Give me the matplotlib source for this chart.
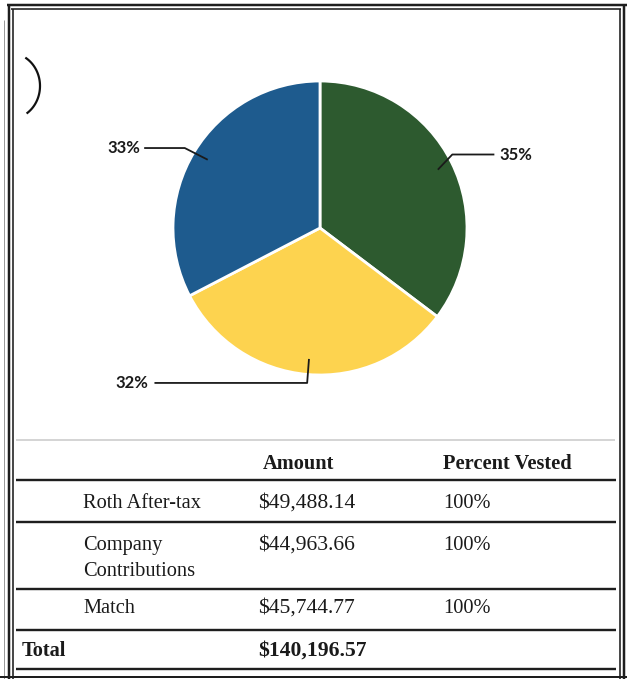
import numpy as np
import matplotlib
matplotlib.use("Agg")
import matplotlib.pyplot as plt

# ---- data ----
categories = ["Roth After-tax", "Company\nContributions", "Match"]
amounts = [49488.14, 44963.66, 45744.77]
amount_labels = ["$49,488.14", "$44,963.66", "$45,744.77"]
vested_labels = ["100%", "100%", "100%"]
total_label = "$140,196.57"
header_labels = ["Amount", "Percent Vested"]
slice_colors = ["#2d5a2f", "#fdd34f", "#1e5b8e"]

W, H = 627, 679
fig = plt.figure(figsize=(W / 100, H / 100), dpi=100)
fig.patch.set_facecolor("white")

# background axes in pixel coordinates
bg = fig.add_axes([0, 0, 1, 1])
bg.set_xlim(0, W)
bg.set_ylim(H, 0)
bg.axis("off")

px = 0.72  # points per pixel

def hline(y, x0, x1, lw, color="#1e1e1e"):
    bg.plot([x0, x1], [y, y], color=color, lw=lw * px, solid_capstyle="butt")

def vline(x, y0, y1, lw, color="#1e1e1e"):
    bg.plot([x, x], [y0, y1], color=color, lw=lw * px, solid_capstyle="butt")

# outer frame (double lines)
hline(4.5, 7, 627, 2.5)
hline(9, 11, 621, 1.6)
vline(8.5, 4, 679, 2.5)
vline(12.5, 9, 679, 1.6)
vline(4, 20, 679, 1.0, "#9a9a9a")
vline(620, 9, 679, 1.6)
vline(624, 4, 679, 2.5)
hline(676.5, 0, 627, 2.0)

# stray hand-drawn mark
t = np.linspace(-1.0, 0.95, 60)
bg.plot(10 + 30 * np.cos(t), 86 + 33 * np.sin(t), color="#111111", lw=2.2 * px)

# ---- pie ----
cx, cy, r = 320, 228, 147
pie_ax = fig.add_axes([(cx - r) / W, 1 - (cy + r) / H, 2 * r / W, 2 * r / H])
wedges, _ = pie_ax.pie(amounts, colors=slice_colors, startangle=90, counterclock=False,
                       radius=1.0, wedgeprops=dict(edgecolor="white", linewidth=2.0))
pie_ax.set_xlim(-1, 1)
pie_ax.set_ylim(-1, 1)
pie_ax.axis("off")

total = sum(amounts)
pcts = [f"{round(100 * a / total):d}%" for a in amounts]

# leader-line layouts
layouts = [
    dict(elbow=(0.90, 0.50), end=1.18, ha="left", tx=1.22),        # Roth
    dict(elbow=None, ey=-1.054, end=-1.12, ha="right", tx=-1.17),  # Company
    dict(elbow=(-0.92, 0.544), end=-1.19, ha="right", tx=-1.22),   # Match
]
lfont = dict(family=["Liberation Sans Narrow", "Lato", "DejaVu Sans"], fontsize=12,
             fontweight="bold", color="#1a1a1a")
for w, pct, lay in zip(wedges, pcts, layouts):
    ang = np.deg2rad((w.theta1 + w.theta2) / 2)
    ix, iy = 0.9 * np.cos(ang), 0.9 * np.sin(ang)
    if lay["elbow"] is None:
        ex, ey = ix - 0.012, lay["ey"]
    else:
        ex, ey = lay["elbow"]
    pie_ax.plot([ix, ex, lay["end"]], [iy, ey, ey], color="#1a1a1a", lw=1.3, clip_on=False)
    pie_ax.text(lay["tx"], ey, pct, ha=lay["ha"], va="center", **lfont)

# ---- table ----
hline(440, 16, 615, 1.5, "#c8c8c8")
for y in [480, 521.5, 589, 630, 668.5]:
    hline(y, 16, 616, 2.4)

serif = ["Liberation Serif", "DejaVu Serif"]
tfs = 14.7
afs = 15.6
ink = "#1a1a1a"
bg.text(263, 469, header_labels[0], family=serif, fontsize=tfs, fontweight="bold",
        ha="left", va="baseline", color=ink)
bg.text(443, 469, header_labels[1], family=serif, fontsize=tfs, fontweight="bold",
        ha="left", va="baseline", color=ink)

row_base = [508, 550, 613]
for cat, amt, ves, y in zip(categories, amount_labels, vested_labels, row_base):
    for k, ln in enumerate(cat.split("\n")):
        bg.text(83, y + 26 * k, ln, family=serif, fontsize=tfs, ha="left", va="baseline", color=ink)
    bg.text(258, y, amt, family=serif, fontsize=afs, ha="left", va="baseline", color=ink)
    bg.text(443, y, ves, family=serif, fontsize=tfs, ha="left", va="baseline", color=ink)

bg.text(22, 656, "Total", family=serif, fontsize=tfs, fontweight="bold", ha="left", va="baseline", color=ink)
bg.text(258, 656, total_label, family=serif, fontsize=afs, fontweight="bold", ha="left", va="baseline", color=ink)

fig.savefig("out.png", dpi=100, facecolor="white")
